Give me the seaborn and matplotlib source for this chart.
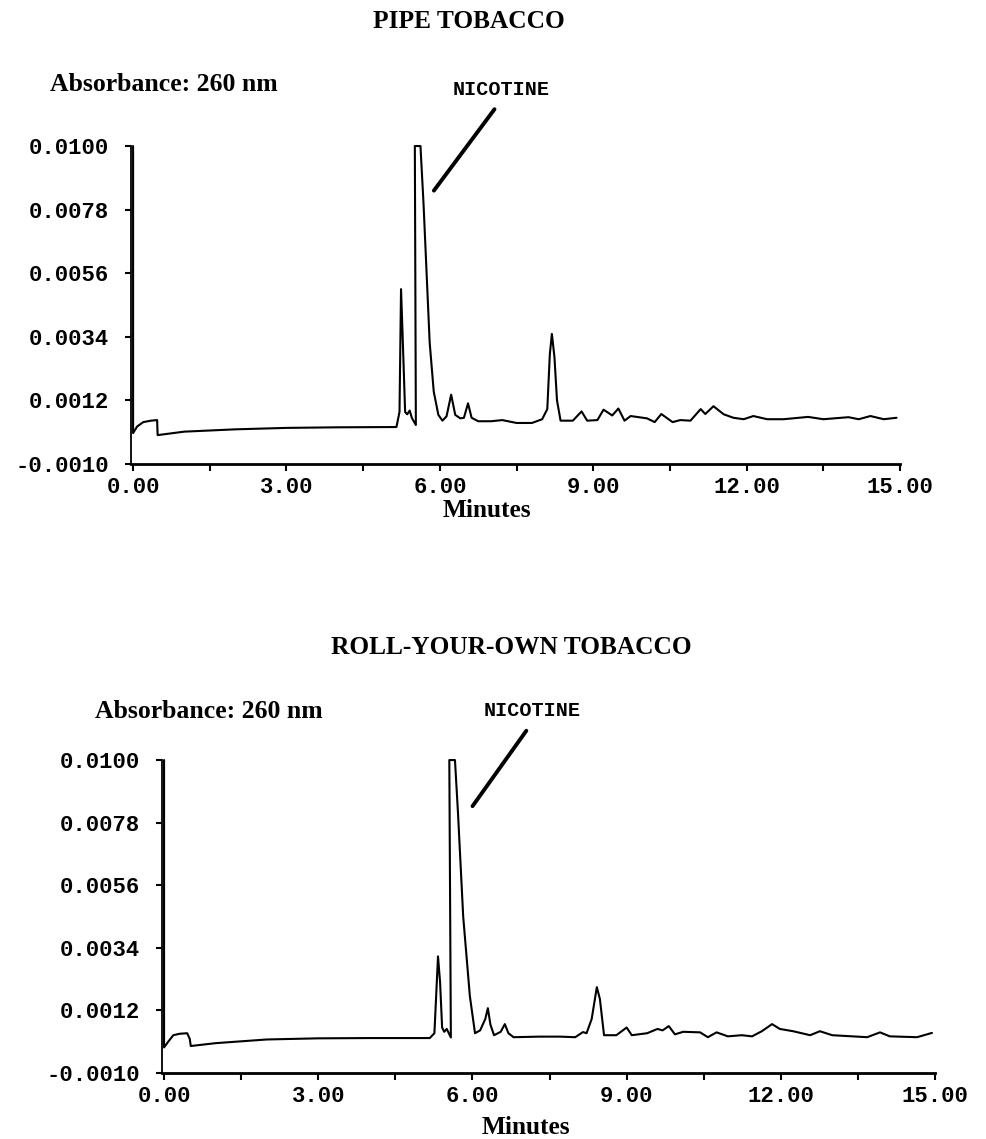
import numpy as np
import pandas as pd
import matplotlib
matplotlib.use("Agg")
import matplotlib.pyplot as plt
import seaborn as sns

# pipe tobacco trace (minutes, absorbance)
pipe_t = [0.0, 0.0, 0.08, 0.2, 0.35, 0.47, 0.48, 1.0, 2.0, 3.0, 4.0, 5.15,
          5.21, 5.24, 5.27, 5.32, 5.36, 5.41, 5.45, 5.53, 5.51, 5.62, 5.68,
          5.80, 5.88, 5.97, 6.05, 6.13, 6.22, 6.30, 6.40, 6.47, 6.55, 6.62,
          6.75, 7.0, 7.22, 7.5, 7.8, 8.0, 8.1, 8.15, 8.19, 8.24, 8.29, 8.36, 8.6,
          8.77, 8.88, 9.08, 9.2, 9.37, 9.49, 9.61, 9.73, 10.05, 10.2, 10.33,
          10.55, 10.7, 10.9, 11.1, 11.19, 11.35, 11.55, 11.74, 11.94, 12.13,
          12.4, 12.72, 13.2, 13.5, 13.99, 14.19, 14.42, 14.68, 14.93]
pipe_a = [0.0100, 0.00007, 0.0003, 0.00045, 0.0005, 0.00052, 0.0000, 0.00012,
          0.0002, 0.00025, 0.00027, 0.00028, 0.0008, 0.00505, 0.0035, 0.0008,
          0.00072, 0.00085, 0.0006, 0.00035, 0.0100, 0.0100, 0.0080, 0.0032,
          0.0015, 0.0007, 0.0005, 0.00065, 0.0014, 0.0007, 0.00058, 0.0006,
          0.0011, 0.0006, 0.00048, 0.00048, 0.00052, 0.00042, 0.00042,
          0.00055, 0.0009, 0.0028, 0.0035, 0.0027, 0.0012, 0.0005, 0.0005, 0.00082,
          0.0005, 0.00052, 0.00088, 0.00068, 0.00092, 0.0005, 0.00066,
          0.00058, 0.00045, 0.00073, 0.00045, 0.00052, 0.0005, 0.0009,
          0.00073, 0.0010, 0.00072, 0.0006, 0.00055, 0.00066, 0.00055,
          0.00055, 0.00063, 0.00055, 0.00062, 0.00055, 0.00066, 0.00055,
          0.0006]

# roll-your-own trace
ryo_t = [0.0, 0.0, 0.08, 0.18, 0.3, 0.45, 0.5, 0.52, 1.0, 2.0, 3.0, 4.0,
         5.17, 5.26, 5.33, 5.37, 5.41, 5.45, 5.5, 5.58, 5.55, 5.66, 5.72,
         5.82, 5.95, 6.05, 6.15, 6.25, 6.3, 6.35, 6.42, 6.55, 6.63, 6.7, 6.8,
         7.3, 7.7, 8.0, 8.15, 8.22, 8.32, 8.42, 8.48, 8.56, 8.8, 9.0, 9.1,
         9.4, 9.6, 9.7, 9.82, 9.94, 10.1, 10.43, 10.58, 10.75, 10.97, 11.24,
         11.44, 11.63, 11.83, 11.98, 12.24, 12.57, 12.76, 13.0, 13.68, 13.93,
         14.12, 14.65, 14.94]
ryo_a = [0.0100, -0.0001, 0.0001, 0.00033, 0.00038, 0.0004, 0.0002, -0.00005,
         0.00005, 0.00018, 0.00022, 0.00023, 0.00023, 0.0004, 0.0031, 0.0022,
         0.0006, 0.00045, 0.00055, 0.00025, 0.0100, 0.0100, 0.0081, 0.0045,
         0.0017, 0.0004, 0.0005, 0.0009, 0.00128, 0.0007, 0.00033, 0.00045,
         0.00072, 0.0004, 0.00026, 0.00028, 0.00028, 0.00026, 0.00044,
         0.0004, 0.0009, 0.00202, 0.0016, 0.00033, 0.00033, 0.0006, 0.00033,
         0.0004, 0.00055, 0.0005, 0.00065, 0.00036, 0.00045, 0.00043,
         0.00026, 0.00043, 0.00029, 0.00033, 0.00029, 0.00047, 0.00072,
         0.00055, 0.00047, 0.00033, 0.00047, 0.00033, 0.00026, 0.00043,
         0.00029, 0.00026, 0.00041]

titles = ["PIPE TOBACCO", "ROLL-YOUR-OWN TOBACCO"]
y_ticks = [-0.0010, 0.0012, 0.0034, 0.0056, 0.0078, 0.0100]
x_major = [0, 3, 6, 9, 12, 15]
x_minor = [1.5, 4.5, 7.5, 10.5, 13.5]
# nicotine label position and pointer line (text xy, line start, line end)
nic_text = [(7.2, 0.01194), (7.16, 0.01174)]
nic_line = [((7.10, 0.01135), (5.85, 0.00838)), ((7.08, 0.01111), (5.97, 0.0083))]

sns.set_theme(style="ticks")
plt.rcParams['font.family'] = ['Liberation Serif', 'DejaVu Serif']
plt.rcParams['text.color'] = 'black'
plt.rcParams['xtick.color'] = 'black'
plt.rcParams['ytick.color'] = 'black'
mono = 'Liberation Mono'

fig = plt.figure(figsize=(9.86, 11.39), dpi=100)
ax_top = fig.add_axes([0.1329, 0.5926, 0.780, 0.2792])
ax_bot = fig.add_axes([0.1643, 0.0579, 0.784, 0.2748])

traces = [(pipe_t, pipe_a), (ryo_t, ryo_a)]
for i, ax in enumerate([ax_top, ax_bot]):
    df = pd.DataFrame({'Minutes': traces[i][0], 'Absorbance': traces[i][1]})
    sns.lineplot(data=df, x='Minutes', y='Absorbance', sort=False, estimator=None,
                 color='black', lw=1.5, ax=ax, clip_on=False)
    ax.set_xlim(-0.04, 15)
    ax.set_ylim(-0.0010, 0.0100)
    ax.set_xlabel('')
    ax.set_ylabel('')
    ax.set_xticks(x_major)
    ax.set_xticks(x_minor, minor=True)
    ax.set_xticklabels(['%.2f' % v for v in x_major])
    ax.set_yticks(y_ticks)
    ax.set_yticklabels(['%.4f' % v for v in y_ticks])
    for lab in ax.get_xticklabels() + ax.get_yticklabels():
        lab.set_fontfamily(mono)
        lab.set_fontweight('bold')
        lab.set_fontsize(16)
    ax.tick_params(axis='x', which='both', direction='out', length=5, width=1.5, pad=4)
    ax.tick_params(axis='y', direction='out', length=4, width=1.5, pad=12)
    sns.despine(ax=ax)
    ax.spines['left'].set_linewidth(1.3)
    ax.spines['bottom'].set_linewidth(2)
    ax.spines['left'].set_color('black')
    ax.spines['bottom'].set_color('black')
    ax.annotate('', xy=nic_line[i][1], xytext=nic_line[i][0],
                arrowprops=dict(arrowstyle='-', lw=2.8, color='black'), annotation_clip=False)
    ax.text(nic_text[i][0], nic_text[i][1], 'NICOTINE', family=mono, fontweight='bold',
            fontsize=14.5, ha='center', va='center', clip_on=False)

fig.text(0.4757, 0.9807, titles[0], fontsize=18.3, fontweight='bold', ha='center', va='center')
fig.text(0.5183, 0.4311, titles[1], fontsize=18.3, fontweight='bold', ha='center', va='center')
fig.text(0.0507, 0.9254, 'Absorbance: 260 nm', fontsize=18.5, fontweight='bold', ha='left', va='center')
fig.text(0.0963, 0.3749, 'Absorbance: 260 nm', fontsize=18.5, fontweight='bold', ha='left', va='center')
fig.text(0.4939, 0.5515, 'Minutes', fontsize=18.3, fontweight='bold', ha='center', va='center')
fig.text(0.5335, 0.0097, 'Minutes', fontsize=18.3, fontweight='bold', ha='center', va='center')

fig.savefig('out.png', dpi=100, facecolor='white')
